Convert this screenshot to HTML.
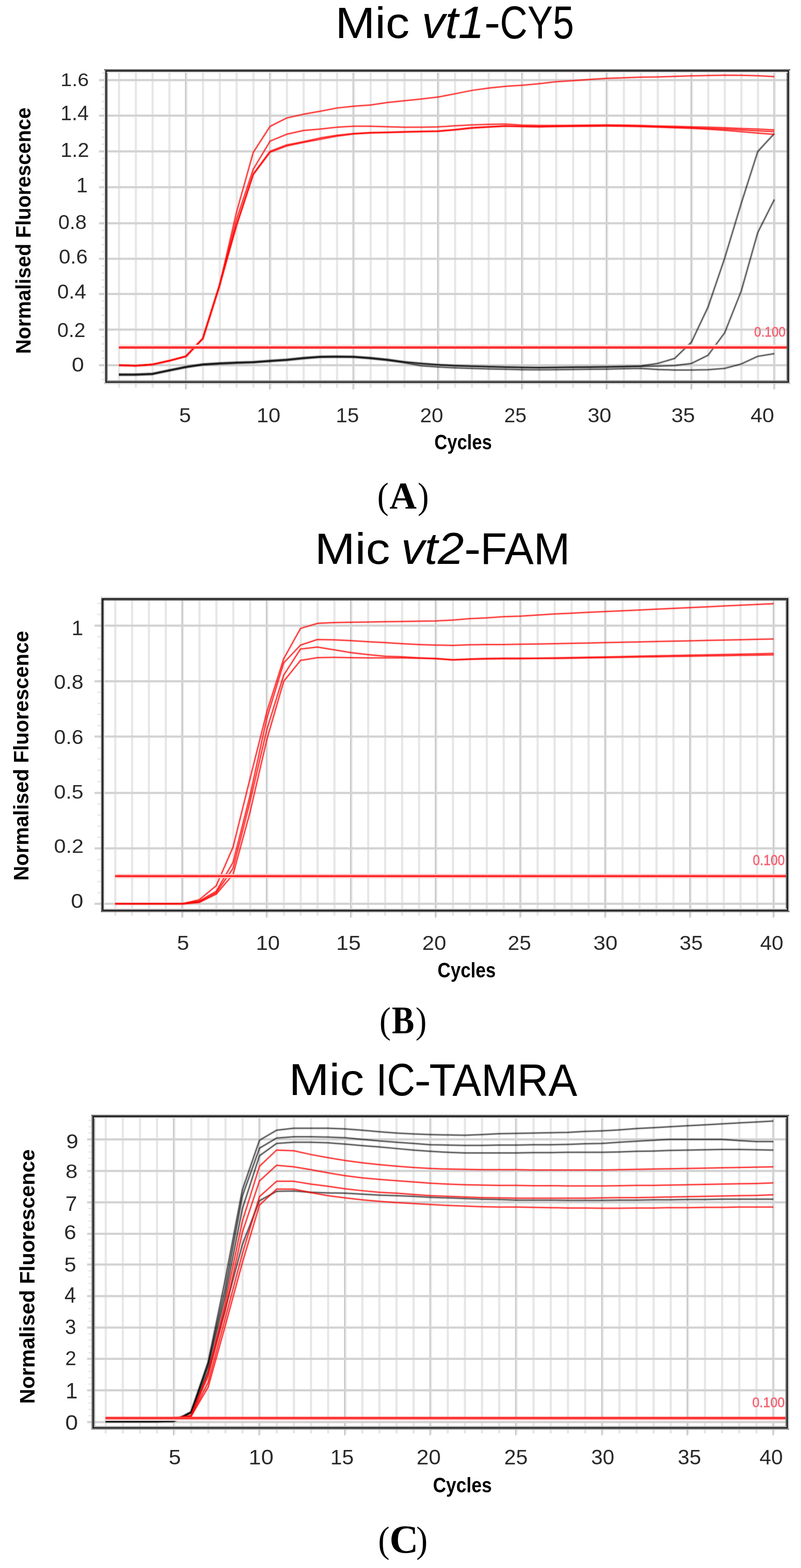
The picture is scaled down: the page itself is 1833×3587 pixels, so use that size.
<!DOCTYPE html>
<html><head><meta charset="utf-8"><title>Mic qPCR amplification curves</title>
<style>
html,body{margin:0;padding:0;background:#fff;}
body{width:1833px;height:3587px;overflow:hidden;}
svg{display:block;}
text{font-kerning:normal;font-family:"Liberation Sans",sans-serif;}
</style></head><body>
<svg width="1833" height="3587" viewBox="0 0 1833 3587">
<rect width="1833" height="3587" fill="#fff"/>
<line x1="232.4" y1="868.06" x2="240.6" y2="868.06" stroke="#e6e6e6" stroke-width="3"/>
<line x1="232.4" y1="851.78" x2="240.6" y2="851.78" stroke="#e6e6e6" stroke-width="3"/>
<line x1="232.4" y1="819.22" x2="240.6" y2="819.22" stroke="#e6e6e6" stroke-width="3"/>
<line x1="232.4" y1="802.94" x2="240.6" y2="802.94" stroke="#e6e6e6" stroke-width="3"/>
<line x1="232.4" y1="786.66" x2="240.6" y2="786.66" stroke="#e6e6e6" stroke-width="3"/>
<line x1="232.4" y1="770.38" x2="240.6" y2="770.38" stroke="#e6e6e6" stroke-width="3"/>
<line x1="232.4" y1="737.76" x2="240.6" y2="737.76" stroke="#e6e6e6" stroke-width="3"/>
<line x1="232.4" y1="721.42" x2="240.6" y2="721.42" stroke="#e6e6e6" stroke-width="3"/>
<line x1="232.4" y1="705.08" x2="240.6" y2="705.08" stroke="#e6e6e6" stroke-width="3"/>
<line x1="232.4" y1="688.74" x2="240.6" y2="688.74" stroke="#e6e6e6" stroke-width="3"/>
<line x1="232.4" y1="656.34" x2="240.6" y2="656.34" stroke="#e6e6e6" stroke-width="3"/>
<line x1="232.4" y1="640.28" x2="240.6" y2="640.28" stroke="#e6e6e6" stroke-width="3"/>
<line x1="232.4" y1="624.22" x2="240.6" y2="624.22" stroke="#e6e6e6" stroke-width="3"/>
<line x1="232.4" y1="608.16" x2="240.6" y2="608.16" stroke="#e6e6e6" stroke-width="3"/>
<line x1="232.4" y1="575.84" x2="240.6" y2="575.84" stroke="#e6e6e6" stroke-width="3"/>
<line x1="232.4" y1="559.58" x2="240.6" y2="559.58" stroke="#e6e6e6" stroke-width="3"/>
<line x1="232.4" y1="543.32" x2="240.6" y2="543.32" stroke="#e6e6e6" stroke-width="3"/>
<line x1="232.4" y1="527.06" x2="240.6" y2="527.06" stroke="#e6e6e6" stroke-width="3"/>
<line x1="232.4" y1="494.3" x2="240.6" y2="494.3" stroke="#e6e6e6" stroke-width="3"/>
<line x1="232.4" y1="477.8" x2="240.6" y2="477.8" stroke="#e6e6e6" stroke-width="3"/>
<line x1="232.4" y1="461.3" x2="240.6" y2="461.3" stroke="#e6e6e6" stroke-width="3"/>
<line x1="232.4" y1="444.8" x2="240.6" y2="444.8" stroke="#e6e6e6" stroke-width="3"/>
<line x1="232.4" y1="411.88" x2="240.6" y2="411.88" stroke="#e6e6e6" stroke-width="3"/>
<line x1="232.4" y1="395.46" x2="240.6" y2="395.46" stroke="#e6e6e6" stroke-width="3"/>
<line x1="232.4" y1="379.04" x2="240.6" y2="379.04" stroke="#e6e6e6" stroke-width="3"/>
<line x1="232.4" y1="362.62" x2="240.6" y2="362.62" stroke="#e6e6e6" stroke-width="3"/>
<line x1="232.4" y1="329.88" x2="240.6" y2="329.88" stroke="#e6e6e6" stroke-width="3"/>
<line x1="232.4" y1="313.56" x2="240.6" y2="313.56" stroke="#e6e6e6" stroke-width="3"/>
<line x1="232.4" y1="297.24" x2="240.6" y2="297.24" stroke="#e6e6e6" stroke-width="3"/>
<line x1="232.4" y1="280.92" x2="240.6" y2="280.92" stroke="#e6e6e6" stroke-width="3"/>
<line x1="232.4" y1="248.34" x2="240.6" y2="248.34" stroke="#e6e6e6" stroke-width="3"/>
<line x1="232.4" y1="232.08" x2="240.6" y2="232.08" stroke="#e6e6e6" stroke-width="3"/>
<line x1="232.4" y1="215.82" x2="240.6" y2="215.82" stroke="#e6e6e6" stroke-width="3"/>
<line x1="232.4" y1="199.56" x2="240.6" y2="199.56" stroke="#e6e6e6" stroke-width="3"/>
<line x1="232.4" y1="167.04" x2="240.6" y2="167.04" stroke="#e6e6e6" stroke-width="3"/>
<line x1="272.5" y1="162.35" x2="272.5" y2="886.75" stroke="#e7e7e7" stroke-width="5"/>
<line x1="310.9" y1="162.35" x2="310.9" y2="886.75" stroke="#e7e7e7" stroke-width="5"/>
<line x1="349.3" y1="162.35" x2="349.3" y2="886.75" stroke="#e7e7e7" stroke-width="5"/>
<line x1="387.7" y1="162.35" x2="387.7" y2="886.75" stroke="#e7e7e7" stroke-width="5"/>
<line x1="424.8" y1="162.35" x2="424.8" y2="891.25" stroke="#c4c4c4" stroke-width="2.8"/>
<line x1="427.6" y1="162.35" x2="427.6" y2="889.25" stroke="#e6e6e6" stroke-width="2.8"/>
<line x1="464.58" y1="162.35" x2="464.58" y2="886.75" stroke="#e7e7e7" stroke-width="5"/>
<line x1="503.06" y1="162.35" x2="503.06" y2="886.75" stroke="#e7e7e7" stroke-width="5"/>
<line x1="541.54" y1="162.35" x2="541.54" y2="886.75" stroke="#e7e7e7" stroke-width="5"/>
<line x1="580.02" y1="162.35" x2="580.02" y2="886.75" stroke="#e7e7e7" stroke-width="5"/>
<line x1="617.2" y1="162.35" x2="617.2" y2="891.25" stroke="#c4c4c4" stroke-width="2.8"/>
<line x1="620" y1="162.35" x2="620" y2="889.25" stroke="#e6e6e6" stroke-width="2.8"/>
<line x1="656.7" y1="162.35" x2="656.7" y2="886.75" stroke="#e7e7e7" stroke-width="5"/>
<line x1="694.9" y1="162.35" x2="694.9" y2="886.75" stroke="#e7e7e7" stroke-width="5"/>
<line x1="733.1" y1="162.35" x2="733.1" y2="886.75" stroke="#e7e7e7" stroke-width="5"/>
<line x1="771.3" y1="162.35" x2="771.3" y2="886.75" stroke="#e7e7e7" stroke-width="5"/>
<line x1="808.2" y1="162.35" x2="808.2" y2="891.25" stroke="#c4c4c4" stroke-width="2.8"/>
<line x1="811" y1="162.35" x2="811" y2="889.25" stroke="#e6e6e6" stroke-width="2.8"/>
<line x1="848.2" y1="162.35" x2="848.2" y2="886.75" stroke="#e7e7e7" stroke-width="5"/>
<line x1="886.9" y1="162.35" x2="886.9" y2="886.75" stroke="#e7e7e7" stroke-width="5"/>
<line x1="925.6" y1="162.35" x2="925.6" y2="886.75" stroke="#e7e7e7" stroke-width="5"/>
<line x1="964.3" y1="162.35" x2="964.3" y2="886.75" stroke="#e7e7e7" stroke-width="5"/>
<line x1="1001.7" y1="162.35" x2="1001.7" y2="891.25" stroke="#c4c4c4" stroke-width="2.8"/>
<line x1="1004.5" y1="162.35" x2="1004.5" y2="889.25" stroke="#e6e6e6" stroke-width="2.8"/>
<line x1="1041.46" y1="162.35" x2="1041.46" y2="886.75" stroke="#e7e7e7" stroke-width="5"/>
<line x1="1079.92" y1="162.35" x2="1079.92" y2="886.75" stroke="#e7e7e7" stroke-width="5"/>
<line x1="1118.38" y1="162.35" x2="1118.38" y2="886.75" stroke="#e7e7e7" stroke-width="5"/>
<line x1="1156.84" y1="162.35" x2="1156.84" y2="886.75" stroke="#e7e7e7" stroke-width="5"/>
<line x1="1194" y1="162.35" x2="1194" y2="891.25" stroke="#c4c4c4" stroke-width="2.8"/>
<line x1="1196.8" y1="162.35" x2="1196.8" y2="889.25" stroke="#e6e6e6" stroke-width="2.8"/>
<line x1="1234.04" y1="162.35" x2="1234.04" y2="886.75" stroke="#e7e7e7" stroke-width="5"/>
<line x1="1272.78" y1="162.35" x2="1272.78" y2="886.75" stroke="#e7e7e7" stroke-width="5"/>
<line x1="1311.52" y1="162.35" x2="1311.52" y2="886.75" stroke="#e7e7e7" stroke-width="5"/>
<line x1="1350.26" y1="162.35" x2="1350.26" y2="886.75" stroke="#e7e7e7" stroke-width="5"/>
<line x1="1387.7" y1="162.35" x2="1387.7" y2="891.25" stroke="#c4c4c4" stroke-width="2.8"/>
<line x1="1390.5" y1="162.35" x2="1390.5" y2="889.25" stroke="#e6e6e6" stroke-width="2.8"/>
<line x1="1427.78" y1="162.35" x2="1427.78" y2="886.75" stroke="#e7e7e7" stroke-width="5"/>
<line x1="1466.56" y1="162.35" x2="1466.56" y2="886.75" stroke="#e7e7e7" stroke-width="5"/>
<line x1="1505.34" y1="162.35" x2="1505.34" y2="886.75" stroke="#e7e7e7" stroke-width="5"/>
<line x1="1544.12" y1="162.35" x2="1544.12" y2="886.75" stroke="#e7e7e7" stroke-width="5"/>
<line x1="1581.6" y1="162.35" x2="1581.6" y2="891.25" stroke="#c4c4c4" stroke-width="2.8"/>
<line x1="1584.4" y1="162.35" x2="1584.4" y2="889.25" stroke="#e6e6e6" stroke-width="2.8"/>
<line x1="1620.82" y1="162.35" x2="1620.82" y2="886.75" stroke="#e7e7e7" stroke-width="5"/>
<line x1="1658.74" y1="162.35" x2="1658.74" y2="886.75" stroke="#e7e7e7" stroke-width="5"/>
<line x1="1696.66" y1="162.35" x2="1696.66" y2="886.75" stroke="#e7e7e7" stroke-width="5"/>
<line x1="1734.58" y1="162.35" x2="1734.58" y2="886.75" stroke="#e7e7e7" stroke-width="5"/>
<line x1="1771.2" y1="162.35" x2="1771.2" y2="891.25" stroke="#c4c4c4" stroke-width="2.8"/>
<line x1="1774" y1="162.35" x2="1774" y2="889.25" stroke="#e6e6e6" stroke-width="2.8"/>
<line x1="226.45" y1="835.5" x2="1804.25" y2="835.5" stroke="#d3d3d3" stroke-width="5"/>
<line x1="226.45" y1="754.1" x2="1804.25" y2="754.1" stroke="#d3d3d3" stroke-width="5"/>
<line x1="226.45" y1="672.4" x2="1804.25" y2="672.4" stroke="#d3d3d3" stroke-width="5"/>
<line x1="226.45" y1="592.1" x2="1804.25" y2="592.1" stroke="#d3d3d3" stroke-width="5"/>
<line x1="226.45" y1="510.8" x2="1804.25" y2="510.8" stroke="#d3d3d3" stroke-width="5"/>
<line x1="226.45" y1="428.3" x2="1804.25" y2="428.3" stroke="#d3d3d3" stroke-width="5"/>
<line x1="226.45" y1="346.2" x2="1804.25" y2="346.2" stroke="#d3d3d3" stroke-width="5"/>
<line x1="226.45" y1="264.6" x2="1804.25" y2="264.6" stroke="#d3d3d3" stroke-width="5"/>
<line x1="226.45" y1="183.3" x2="1804.25" y2="183.3" stroke="#d3d3d3" stroke-width="5"/>
<polyline points="272,858.27 310.4,858.27 348.8,856.64 387.2,848.5 425.6,840.77 464.08,835.07 502.56,832.63 541.04,831 579.52,829.78 618,826.93 656.2,824.49 694.4,820.42 732.6,817.57 770.8,817.16 809,817.57 847.7,820.42 886.4,824.49 925.1,829.78 963.8,836.7 1002.5,839.55 1040.96,841.58 1079.42,842.81 1117.88,844.03 1156.34,844.84 1194.8,845.65 1233.54,846.06 1272.28,845.65 1311.02,845.25 1349.76,844.84 1388.5,844.43 1427.28,843.62 1466.06,842.81 1504.84,845.25 1543.62,846.47 1582.4,846.47 1620.32,845.65 1658.24,842.81 1696.16,832.63 1734.08,815.13 1772,809.02" fill="none" stroke="#000" stroke-width="7" stroke-linejoin="round" stroke-linecap="butt" stroke-opacity="0.1"/>
<polyline points="272,858.27 310.4,858.27 348.8,856.64 387.2,848.5 425.6,840.77 464.08,835.07 502.56,832.63 541.04,831 579.52,829.78 618,826.93 656.2,824.49 694.4,820.42 732.6,817.57 770.8,817.16 809,817.57 847.7,820.42 886.4,824.49 925.1,829.78 963.8,836.7 1002.5,839.55 1040.96,841.58 1079.42,842.81 1117.88,844.03 1156.34,844.84 1194.8,845.65 1233.54,846.06 1272.28,845.65 1311.02,845.25 1349.76,844.84 1388.5,844.43 1427.28,843.62 1466.06,842.81 1504.84,845.25 1543.62,846.47 1582.4,846.47 1620.32,845.65 1658.24,842.81 1696.16,832.63 1734.08,815.13 1772,809.02" fill="none" stroke="#000" stroke-width="3" stroke-linejoin="round" stroke-linecap="butt" stroke-opacity="0.58"/>
<polyline points="272,857.07 310.4,857.07 348.8,855.44 387.2,847.3 425.6,839.57 464.08,833.87 502.56,831.43 541.04,829.8 579.52,828.58 618,825.73 656.2,823.29 694.4,819.22 732.6,816.37 770.8,815.96 809,816.37 847.7,819.22 886.4,823.29 925.1,828.58 963.8,832.24 1002.5,835.09 1040.96,837.13 1079.42,838.35 1117.88,839.57 1156.34,840.38 1194.8,841.2 1233.54,841.61 1272.28,841.2 1311.02,840.79 1349.76,840.38 1388.5,839.98 1427.28,839.16 1466.06,838.35 1504.84,837.53 1543.62,836.31 1582.4,831.43 1620.32,812.71 1658.24,761.43 1696.16,665.98 1734.08,531.94 1772,456.35" fill="none" stroke="#000" stroke-width="7" stroke-linejoin="round" stroke-linecap="butt" stroke-opacity="0.1"/>
<polyline points="272,857.07 310.4,857.07 348.8,855.44 387.2,847.3 425.6,839.57 464.08,833.87 502.56,831.43 541.04,829.8 579.52,828.58 618,825.73 656.2,823.29 694.4,819.22 732.6,816.37 770.8,815.96 809,816.37 847.7,819.22 886.4,823.29 925.1,828.58 963.8,832.24 1002.5,835.09 1040.96,837.13 1079.42,838.35 1117.88,839.57 1156.34,840.38 1194.8,841.2 1233.54,841.61 1272.28,841.2 1311.02,840.79 1349.76,840.38 1388.5,839.98 1427.28,839.16 1466.06,838.35 1504.84,837.53 1543.62,836.31 1582.4,831.43 1620.32,812.71 1658.24,761.43 1696.16,665.98 1734.08,531.94 1772,456.35" fill="none" stroke="#000" stroke-width="3" stroke-linejoin="round" stroke-linecap="butt" stroke-opacity="0.58"/>
<polyline points="272,855.87 310.4,855.87 348.8,854.24 387.2,846.1 425.6,838.37 464.08,832.67 502.56,830.23 541.04,828.6 579.52,827.38 618,824.53 656.2,822.09 694.4,818.02 732.6,815.17 770.8,814.76 809,815.17 847.7,818.02 886.4,822.09 925.1,827.38 963.8,831.04 1002.5,833.89 1040.96,835.93 1079.42,837.15 1117.88,838.37 1156.34,839.18 1194.8,840 1233.54,840.4 1272.28,840 1311.02,839.59 1349.76,839.18 1388.5,838.78 1427.28,837.96 1466.06,837.15 1504.84,831.45 1543.62,820.05 1582.4,782.61 1620.32,702.25 1658.24,590.9 1696.16,465.46 1734.08,346.64 1772,305.42" fill="none" stroke="#000" stroke-width="7" stroke-linejoin="round" stroke-linecap="butt" stroke-opacity="0.1"/>
<polyline points="272,855.87 310.4,855.87 348.8,854.24 387.2,846.1 425.6,838.37 464.08,832.67 502.56,830.23 541.04,828.6 579.52,827.38 618,824.53 656.2,822.09 694.4,818.02 732.6,815.17 770.8,814.76 809,815.17 847.7,818.02 886.4,822.09 925.1,827.38 963.8,831.04 1002.5,833.89 1040.96,835.93 1079.42,837.15 1117.88,838.37 1156.34,839.18 1194.8,840 1233.54,840.4 1272.28,840 1311.02,839.59 1349.76,839.18 1388.5,838.78 1427.28,837.96 1466.06,837.15 1504.84,831.45 1543.62,820.05 1582.4,782.61 1620.32,702.25 1658.24,590.9 1696.16,465.46 1734.08,346.64 1772,305.42" fill="none" stroke="#000" stroke-width="3" stroke-linejoin="round" stroke-linecap="butt" stroke-opacity="0.58"/>
<polyline points="272,835.5 310.4,836.72 348.8,833.87 387.2,825.33 425.6,815.15 464.08,774.45 502.56,652.33 541.04,516.9 579.52,399.56 618,348.25 656.2,333.96 694.4,325.8 732.6,318.86 770.8,311.52 809,306.62 847.7,304.18 886.4,303.36 925.1,302.14 963.8,301.32 1002.5,300.5 1040.96,297.24 1079.42,293.16 1117.88,290.71 1156.34,288.67 1194.8,289.49 1233.54,290.3 1272.28,289.49 1311.02,289.08 1349.76,288.67 1388.5,288.26 1427.28,288.67 1466.06,289.49 1504.84,290.71 1543.62,292.34 1582.4,293.57 1620.32,295.61 1658.24,298.06 1696.16,301.32 1734.08,304.58 1772,307.44" fill="none" stroke="#ff0000" stroke-width="7" stroke-linejoin="round" stroke-linecap="butt" stroke-opacity="0.08"/>
<polyline points="272,835.5 310.4,836.72 348.8,833.87 387.2,825.33 425.6,815.15 464.08,774.45 502.56,652.33 541.04,516.9 579.52,399.56 618,348.25 656.2,333.96 694.4,325.8 732.6,318.86 770.8,311.52 809,306.62 847.7,304.18 886.4,303.36 925.1,302.14 963.8,301.32 1002.5,300.5 1040.96,297.24 1079.42,293.16 1117.88,290.71 1156.34,288.67 1194.8,289.49 1233.54,290.3 1272.28,289.49 1311.02,289.08 1349.76,288.67 1388.5,288.26 1427.28,288.67 1466.06,289.49 1504.84,290.71 1543.62,292.34 1582.4,293.57 1620.32,295.61 1658.24,298.06 1696.16,301.32 1734.08,304.58 1772,307.44" fill="none" stroke="#ff0000" stroke-width="3" stroke-linejoin="round" stroke-linecap="butt" stroke-opacity="0.74"/>
<polyline points="272,835.5 310.4,836.72 348.8,833.87 387.2,825.33 425.6,815.15 464.08,774.45 502.56,652.33 541.04,514.87 579.52,397.92 618,346.2 656.2,331.51 694.4,324.17 732.6,315.6 770.8,309.48 809,305.4 847.7,303.36 886.4,302.54 925.1,301.32 963.8,300.5 1002.5,299.69 1040.96,296.42 1079.42,291.94 1117.88,289.9 1156.34,287.86 1194.8,289.08 1233.54,289.49 1272.28,288.67 1311.02,288.26 1349.76,287.86 1388.5,287.45 1427.28,287.86 1466.06,288.67 1504.84,289.9 1543.62,291.12 1582.4,292.34 1620.32,293.98 1658.24,295.2 1696.16,297.24 1734.08,299.28 1772,301.32" fill="none" stroke="#ff0000" stroke-width="7" stroke-linejoin="round" stroke-linecap="butt" stroke-opacity="0.08"/>
<polyline points="272,835.5 310.4,836.72 348.8,833.87 387.2,825.33 425.6,815.15 464.08,774.45 502.56,652.33 541.04,514.87 579.52,397.92 618,346.2 656.2,331.51 694.4,324.17 732.6,315.6 770.8,309.48 809,305.4 847.7,303.36 886.4,302.54 925.1,301.32 963.8,300.5 1002.5,299.69 1040.96,296.42 1079.42,291.94 1117.88,289.9 1156.34,287.86 1194.8,289.08 1233.54,289.49 1272.28,288.67 1311.02,288.26 1349.76,287.86 1388.5,287.45 1427.28,287.86 1466.06,288.67 1504.84,289.9 1543.62,291.12 1582.4,292.34 1620.32,293.98 1658.24,295.2 1696.16,297.24 1734.08,299.28 1772,301.32" fill="none" stroke="#ff0000" stroke-width="3" stroke-linejoin="round" stroke-linecap="butt" stroke-opacity="0.74"/>
<polyline points="272,835.5 310.4,836.72 348.8,833.87 387.2,825.33 425.6,815.15 464.08,774.45 502.56,652.33 541.04,502.55 579.52,387.25 618,322.94 656.2,307.03 694.4,298.46 732.6,295.2 770.8,291.12 809,288.67 847.7,288.67 886.4,289.9 925.1,291.12 963.8,291.12 1002.5,290.3 1040.96,287.86 1079.42,285.82 1117.88,284.59 1156.34,283.78 1194.8,286.22 1233.54,287.04 1272.28,287.04 1311.02,286.63 1349.76,286.22 1388.5,285.82 1427.28,286.22 1466.06,287.04 1504.84,288.26 1543.62,289.08 1582.4,290.3 1620.32,291.12 1658.24,292.34 1696.16,293.98 1734.08,295.2 1772,297.24" fill="none" stroke="#ff0000" stroke-width="7" stroke-linejoin="round" stroke-linecap="butt" stroke-opacity="0.08"/>
<polyline points="272,835.5 310.4,836.72 348.8,833.87 387.2,825.33 425.6,815.15 464.08,774.45 502.56,652.33 541.04,502.55 579.52,387.25 618,322.94 656.2,307.03 694.4,298.46 732.6,295.2 770.8,291.12 809,288.67 847.7,288.67 886.4,289.9 925.1,291.12 963.8,291.12 1002.5,290.3 1040.96,287.86 1079.42,285.82 1117.88,284.59 1156.34,283.78 1194.8,286.22 1233.54,287.04 1272.28,287.04 1311.02,286.63 1349.76,286.22 1388.5,285.82 1427.28,286.22 1466.06,287.04 1504.84,288.26 1543.62,289.08 1582.4,290.3 1620.32,291.12 1658.24,292.34 1696.16,293.98 1734.08,295.2 1772,297.24" fill="none" stroke="#ff0000" stroke-width="3" stroke-linejoin="round" stroke-linecap="butt" stroke-opacity="0.74"/>
<polyline points="272,835.5 310.4,836.72 348.8,833.87 387.2,825.33 425.6,815.15 464.08,774.45 502.56,652.33 541.04,486.05 579.52,348.66 618,289.08 656.2,269.9 694.4,261.35 732.6,254.44 770.8,247.12 809,243.06 847.7,240.21 886.4,234.52 925.1,230.45 963.8,226.39 1002.5,221.92 1040.96,214.6 1079.42,206.88 1117.88,201.59 1156.34,197.53 1194.8,195.09 1233.54,191.43 1272.28,186.96 1311.02,184.52 1349.76,181.67 1388.5,179.24 1427.28,178.02 1466.06,176.39 1504.84,175.98 1543.62,174.76 1582.4,173.54 1620.32,172.73 1658.24,171.92 1696.16,172.32 1734.08,173.14 1772,175.17" fill="none" stroke="#ff0000" stroke-width="7" stroke-linejoin="round" stroke-linecap="butt" stroke-opacity="0.08"/>
<polyline points="272,835.5 310.4,836.72 348.8,833.87 387.2,825.33 425.6,815.15 464.08,774.45 502.56,652.33 541.04,486.05 579.52,348.66 618,289.08 656.2,269.9 694.4,261.35 732.6,254.44 770.8,247.12 809,243.06 847.7,240.21 886.4,234.52 925.1,230.45 963.8,226.39 1002.5,221.92 1040.96,214.6 1079.42,206.88 1117.88,201.59 1156.34,197.53 1194.8,195.09 1233.54,191.43 1272.28,186.96 1311.02,184.52 1349.76,181.67 1388.5,179.24 1427.28,178.02 1466.06,176.39 1504.84,175.98 1543.62,174.76 1582.4,173.54 1620.32,172.73 1658.24,171.92 1696.16,172.32 1734.08,173.14 1772,175.17" fill="none" stroke="#ff0000" stroke-width="3" stroke-linejoin="round" stroke-linecap="butt" stroke-opacity="0.74"/>
<line x1="272" y1="792.9" x2="1804.25" y2="792.9" stroke="#fde2e2" stroke-width="9"/>
<line x1="272" y1="794.9" x2="1804.25" y2="794.9" stroke="#ff3030" stroke-width="5.5"/>
<line x1="239.65" y1="158.15" x2="239.65" y2="878.45" stroke="#d2d2d2" stroke-width="2.8"/>
<line x1="245.25" y1="162.35" x2="245.25" y2="874.25" stroke="#808080" stroke-width="2.8"/>
<line x1="1807.05" y1="158.15" x2="1807.05" y2="878.45" stroke="#d8d8d8" stroke-width="2.8"/>
<line x1="1801.45" y1="162.35" x2="1801.45" y2="874.25" stroke="#5c5c5c" stroke-width="2.8"/>
<line x1="238.25" y1="159.55" x2="1808.45" y2="159.55" stroke="#6a6a6a" stroke-width="2.8"/>
<line x1="242.45" y1="165.15" x2="1804.25" y2="165.15" stroke="#dadada" stroke-width="2.8"/>
<line x1="238.25" y1="877.05" x2="1808.45" y2="877.05" stroke="#c8c8c8" stroke-width="2.8"/>
<line x1="242.45" y1="871.45" x2="1804.25" y2="871.45" stroke="#8a8a8a" stroke-width="2.8"/>
<rect x="242.45" y="162.35" width="1561.8" height="711.9" fill="none" stroke="#161616" stroke-width="2.8"/>
<line x1="222.7" y1="2042.24" x2="230.3" y2="2042.24" stroke="#e6e6e6" stroke-width="3"/>
<line x1="222.7" y1="2016.88" x2="230.3" y2="2016.88" stroke="#e6e6e6" stroke-width="3"/>
<line x1="222.7" y1="1991.52" x2="230.3" y2="1991.52" stroke="#e6e6e6" stroke-width="3"/>
<line x1="222.7" y1="1966.16" x2="230.3" y2="1966.16" stroke="#e6e6e6" stroke-width="3"/>
<line x1="222.7" y1="1915.42" x2="230.3" y2="1915.42" stroke="#e6e6e6" stroke-width="3"/>
<line x1="222.7" y1="1890.04" x2="230.3" y2="1890.04" stroke="#e6e6e6" stroke-width="3"/>
<line x1="222.7" y1="1864.66" x2="230.3" y2="1864.66" stroke="#e6e6e6" stroke-width="3"/>
<line x1="222.7" y1="1839.28" x2="230.3" y2="1839.28" stroke="#e6e6e6" stroke-width="3"/>
<line x1="222.7" y1="1788.14" x2="230.3" y2="1788.14" stroke="#e6e6e6" stroke-width="3"/>
<line x1="222.7" y1="1762.38" x2="230.3" y2="1762.38" stroke="#e6e6e6" stroke-width="3"/>
<line x1="222.7" y1="1736.62" x2="230.3" y2="1736.62" stroke="#e6e6e6" stroke-width="3"/>
<line x1="222.7" y1="1710.86" x2="230.3" y2="1710.86" stroke="#e6e6e6" stroke-width="3"/>
<line x1="222.7" y1="1659.78" x2="230.3" y2="1659.78" stroke="#e6e6e6" stroke-width="3"/>
<line x1="222.7" y1="1634.46" x2="230.3" y2="1634.46" stroke="#e6e6e6" stroke-width="3"/>
<line x1="222.7" y1="1609.14" x2="230.3" y2="1609.14" stroke="#e6e6e6" stroke-width="3"/>
<line x1="222.7" y1="1583.82" x2="230.3" y2="1583.82" stroke="#e6e6e6" stroke-width="3"/>
<line x1="222.7" y1="1533.04" x2="230.3" y2="1533.04" stroke="#e6e6e6" stroke-width="3"/>
<line x1="222.7" y1="1507.58" x2="230.3" y2="1507.58" stroke="#e6e6e6" stroke-width="3"/>
<line x1="222.7" y1="1482.12" x2="230.3" y2="1482.12" stroke="#e6e6e6" stroke-width="3"/>
<line x1="222.7" y1="1456.66" x2="230.3" y2="1456.66" stroke="#e6e6e6" stroke-width="3"/>
<line x1="222.7" y1="1405.74" x2="230.3" y2="1405.74" stroke="#e6e6e6" stroke-width="3"/>
<line x1="222.7" y1="1380.28" x2="230.3" y2="1380.28" stroke="#e6e6e6" stroke-width="3"/>
<line x1="263.8" y1="1369.7" x2="263.8" y2="2094.9" stroke="#e7e7e7" stroke-width="5"/>
<line x1="302.32" y1="1369.7" x2="302.32" y2="2094.9" stroke="#e7e7e7" stroke-width="5"/>
<line x1="340.85" y1="1369.7" x2="340.85" y2="2094.9" stroke="#e7e7e7" stroke-width="5"/>
<line x1="379.38" y1="1369.7" x2="379.38" y2="2094.9" stroke="#e7e7e7" stroke-width="5"/>
<line x1="416.6" y1="1369.7" x2="416.6" y2="2099.4" stroke="#c4c4c4" stroke-width="2.8"/>
<line x1="419.4" y1="1369.7" x2="419.4" y2="2097.4" stroke="#e6e6e6" stroke-width="2.8"/>
<line x1="456.56" y1="1369.7" x2="456.56" y2="2094.9" stroke="#e7e7e7" stroke-width="5"/>
<line x1="495.22" y1="1369.7" x2="495.22" y2="2094.9" stroke="#e7e7e7" stroke-width="5"/>
<line x1="533.88" y1="1369.7" x2="533.88" y2="2094.9" stroke="#e7e7e7" stroke-width="5"/>
<line x1="572.54" y1="1369.7" x2="572.54" y2="2094.9" stroke="#e7e7e7" stroke-width="5"/>
<line x1="609.9" y1="1369.7" x2="609.9" y2="2099.4" stroke="#c4c4c4" stroke-width="2.8"/>
<line x1="612.7" y1="1369.7" x2="612.7" y2="2097.4" stroke="#e6e6e6" stroke-width="2.8"/>
<line x1="649.72" y1="1369.7" x2="649.72" y2="2094.9" stroke="#e7e7e7" stroke-width="5"/>
<line x1="688.24" y1="1369.7" x2="688.24" y2="2094.9" stroke="#e7e7e7" stroke-width="5"/>
<line x1="726.76" y1="1369.7" x2="726.76" y2="2094.9" stroke="#e7e7e7" stroke-width="5"/>
<line x1="765.28" y1="1369.7" x2="765.28" y2="2094.9" stroke="#e7e7e7" stroke-width="5"/>
<line x1="802.5" y1="1369.7" x2="802.5" y2="2099.4" stroke="#c4c4c4" stroke-width="2.8"/>
<line x1="805.3" y1="1369.7" x2="805.3" y2="2097.4" stroke="#e6e6e6" stroke-width="2.8"/>
<line x1="842.6" y1="1369.7" x2="842.6" y2="2094.9" stroke="#e7e7e7" stroke-width="5"/>
<line x1="881.4" y1="1369.7" x2="881.4" y2="2094.9" stroke="#e7e7e7" stroke-width="5"/>
<line x1="920.2" y1="1369.7" x2="920.2" y2="2094.9" stroke="#e7e7e7" stroke-width="5"/>
<line x1="959" y1="1369.7" x2="959" y2="2094.9" stroke="#e7e7e7" stroke-width="5"/>
<line x1="996.5" y1="1369.7" x2="996.5" y2="2099.4" stroke="#c4c4c4" stroke-width="2.8"/>
<line x1="999.3" y1="1369.7" x2="999.3" y2="2097.4" stroke="#e6e6e6" stroke-width="2.8"/>
<line x1="1036.54" y1="1369.7" x2="1036.54" y2="2094.9" stroke="#e7e7e7" stroke-width="5"/>
<line x1="1075.28" y1="1369.7" x2="1075.28" y2="2094.9" stroke="#e7e7e7" stroke-width="5"/>
<line x1="1114.02" y1="1369.7" x2="1114.02" y2="2094.9" stroke="#e7e7e7" stroke-width="5"/>
<line x1="1152.76" y1="1369.7" x2="1152.76" y2="2094.9" stroke="#e7e7e7" stroke-width="5"/>
<line x1="1190.2" y1="1369.7" x2="1190.2" y2="2099.4" stroke="#c4c4c4" stroke-width="2.8"/>
<line x1="1193" y1="1369.7" x2="1193" y2="2097.4" stroke="#e6e6e6" stroke-width="2.8"/>
<line x1="1230.36" y1="1369.7" x2="1230.36" y2="2094.9" stroke="#e7e7e7" stroke-width="5"/>
<line x1="1269.22" y1="1369.7" x2="1269.22" y2="2094.9" stroke="#e7e7e7" stroke-width="5"/>
<line x1="1308.08" y1="1369.7" x2="1308.08" y2="2094.9" stroke="#e7e7e7" stroke-width="5"/>
<line x1="1346.94" y1="1369.7" x2="1346.94" y2="2094.9" stroke="#e7e7e7" stroke-width="5"/>
<line x1="1384.5" y1="1369.7" x2="1384.5" y2="2099.4" stroke="#c4c4c4" stroke-width="2.8"/>
<line x1="1387.3" y1="1369.7" x2="1387.3" y2="2097.4" stroke="#e6e6e6" stroke-width="2.8"/>
<line x1="1424.64" y1="1369.7" x2="1424.64" y2="2094.9" stroke="#e7e7e7" stroke-width="5"/>
<line x1="1463.48" y1="1369.7" x2="1463.48" y2="2094.9" stroke="#e7e7e7" stroke-width="5"/>
<line x1="1502.32" y1="1369.7" x2="1502.32" y2="2094.9" stroke="#e7e7e7" stroke-width="5"/>
<line x1="1541.16" y1="1369.7" x2="1541.16" y2="2094.9" stroke="#e7e7e7" stroke-width="5"/>
<line x1="1578.7" y1="1369.7" x2="1578.7" y2="2099.4" stroke="#c4c4c4" stroke-width="2.8"/>
<line x1="1581.5" y1="1369.7" x2="1581.5" y2="2097.4" stroke="#e6e6e6" stroke-width="2.8"/>
<line x1="1618.2" y1="1369.7" x2="1618.2" y2="2094.9" stroke="#e7e7e7" stroke-width="5"/>
<line x1="1656.4" y1="1369.7" x2="1656.4" y2="2094.9" stroke="#e7e7e7" stroke-width="5"/>
<line x1="1694.6" y1="1369.7" x2="1694.6" y2="2094.9" stroke="#e7e7e7" stroke-width="5"/>
<line x1="1732.8" y1="1369.7" x2="1732.8" y2="2094.9" stroke="#e7e7e7" stroke-width="5"/>
<line x1="1769.7" y1="1369.7" x2="1769.7" y2="2099.4" stroke="#c4c4c4" stroke-width="2.8"/>
<line x1="1772.5" y1="1369.7" x2="1772.5" y2="2097.4" stroke="#e6e6e6" stroke-width="2.8"/>
<line x1="216.4" y1="2067.6" x2="1802.4" y2="2067.6" stroke="#d3d3d3" stroke-width="5"/>
<line x1="216.4" y1="1940.8" x2="1802.4" y2="1940.8" stroke="#d3d3d3" stroke-width="5"/>
<line x1="216.4" y1="1813.9" x2="1802.4" y2="1813.9" stroke="#d3d3d3" stroke-width="5"/>
<line x1="216.4" y1="1685.1" x2="1802.4" y2="1685.1" stroke="#d3d3d3" stroke-width="5"/>
<line x1="216.4" y1="1558.5" x2="1802.4" y2="1558.5" stroke="#d3d3d3" stroke-width="5"/>
<line x1="216.4" y1="1431.2" x2="1802.4" y2="1431.2" stroke="#d3d3d3" stroke-width="5"/>
<polyline points="263.3,2067.6 301.82,2067.6 340.35,2067.6 378.88,2067.6 417.4,2067.6 456.06,2064.43 494.72,2045.41 533.38,2000.4 572.04,1858.32 610.7,1691.54 649.22,1558.5 687.74,1510.76 726.26,1504.4 764.78,1503.76 803.3,1504.4 842.1,1505.03 880.9,1505.03 919.7,1505.03 958.5,1505.67 997.3,1506.31 1036.04,1509.49 1074.78,1508.22 1113.52,1507.58 1152.26,1506.94 1191,1506.94 1229.86,1506.31 1268.72,1506.31 1307.58,1505.67 1346.44,1505.03 1385.3,1504.4 1424.14,1503.76 1462.98,1503.12 1501.82,1502.49 1540.66,1501.85 1579.5,1501.22 1617.7,1500.58 1655.9,1499.94 1694.1,1499.31 1732.3,1498.67 1770.5,1498.03" fill="none" stroke="#ff0000" stroke-width="7" stroke-linejoin="round" stroke-linecap="butt" stroke-opacity="0.08"/>
<polyline points="263.3,2067.6 301.82,2067.6 340.35,2067.6 378.88,2067.6 417.4,2067.6 456.06,2064.43 494.72,2045.41 533.38,2000.4 572.04,1858.32 610.7,1691.54 649.22,1558.5 687.74,1510.76 726.26,1504.4 764.78,1503.76 803.3,1504.4 842.1,1505.03 880.9,1505.03 919.7,1505.03 958.5,1505.67 997.3,1506.31 1036.04,1509.49 1074.78,1508.22 1113.52,1507.58 1152.26,1506.94 1191,1506.94 1229.86,1506.31 1268.72,1506.31 1307.58,1505.67 1346.44,1505.03 1385.3,1504.4 1424.14,1503.76 1462.98,1503.12 1501.82,1502.49 1540.66,1501.85 1579.5,1501.22 1617.7,1500.58 1655.9,1499.94 1694.1,1499.31 1732.3,1498.67 1770.5,1498.03" fill="none" stroke="#ff0000" stroke-width="3" stroke-linejoin="round" stroke-linecap="butt" stroke-opacity="0.74"/>
<polyline points="263.3,2067.6 301.82,2067.6 340.35,2067.6 378.88,2067.6 417.4,2067.6 456.06,2063.16 494.72,2042.24 533.38,1986.45 572.04,1834.2 610.7,1668.64 649.22,1544.5 687.74,1484.67 726.26,1480.21 764.78,1486.58 803.3,1492.94 842.1,1497.4 880.9,1501.22 919.7,1502.49 958.5,1505.03 997.3,1506.94 1036.04,1509.49 1074.78,1507.58 1113.52,1506.31 1152.26,1505.67 1191,1505.67 1229.86,1505.67 1268.72,1505.03 1307.58,1504.25 1346.44,1503.47 1385.3,1502.68 1424.14,1501.9 1462.98,1501.12 1501.82,1500.33 1540.66,1499.55 1579.5,1498.77 1617.7,1497.98 1655.9,1497.2 1694.1,1496.42 1732.3,1495.63 1770.5,1494.85" fill="none" stroke="#ff0000" stroke-width="7" stroke-linejoin="round" stroke-linecap="butt" stroke-opacity="0.08"/>
<polyline points="263.3,2067.6 301.82,2067.6 340.35,2067.6 378.88,2067.6 417.4,2067.6 456.06,2063.16 494.72,2042.24 533.38,1986.45 572.04,1834.2 610.7,1668.64 649.22,1544.5 687.74,1484.67 726.26,1480.21 764.78,1486.58 803.3,1492.94 842.1,1497.4 880.9,1501.22 919.7,1502.49 958.5,1505.03 997.3,1506.94 1036.04,1509.49 1074.78,1507.58 1113.52,1506.31 1152.26,1505.67 1191,1505.67 1229.86,1505.67 1268.72,1505.03 1307.58,1504.25 1346.44,1503.47 1385.3,1502.68 1424.14,1501.9 1462.98,1501.12 1501.82,1500.33 1540.66,1499.55 1579.5,1498.77 1617.7,1497.98 1655.9,1497.2 1694.1,1496.42 1732.3,1495.63 1770.5,1494.85" fill="none" stroke="#ff0000" stroke-width="3" stroke-linejoin="round" stroke-linecap="butt" stroke-opacity="0.74"/>
<polyline points="263.3,2067.6 301.82,2067.6 340.35,2067.6 378.88,2067.6 417.4,2067.6 456.06,2061.26 494.72,2039.07 533.38,1972.5 572.04,1820.25 610.7,1642.69 649.22,1516.49 687.74,1475.76 726.26,1463.03 764.78,1463.66 803.3,1465.57 842.1,1468.12 880.9,1470.03 919.7,1472.57 958.5,1474.48 997.3,1475.76 1036.04,1476.39 1074.78,1475.12 1113.52,1474.48 1152.26,1474.48 1191,1473.85 1229.86,1473.21 1268.72,1472.57 1307.58,1471.74 1346.44,1470.91 1385.3,1470.08 1424.14,1469.24 1462.98,1468.41 1501.82,1467.58 1540.66,1466.75 1579.5,1465.91 1617.7,1465.08 1655.9,1464.25 1694.1,1463.42 1732.3,1462.58 1770.5,1461.75" fill="none" stroke="#ff0000" stroke-width="7" stroke-linejoin="round" stroke-linecap="butt" stroke-opacity="0.08"/>
<polyline points="263.3,2067.6 301.82,2067.6 340.35,2067.6 378.88,2067.6 417.4,2067.6 456.06,2061.26 494.72,2039.07 533.38,1972.5 572.04,1820.25 610.7,1642.69 649.22,1516.49 687.74,1475.76 726.26,1463.03 764.78,1463.66 803.3,1465.57 842.1,1468.12 880.9,1470.03 919.7,1472.57 958.5,1474.48 997.3,1475.76 1036.04,1476.39 1074.78,1475.12 1113.52,1474.48 1152.26,1474.48 1191,1473.85 1229.86,1473.21 1268.72,1472.57 1307.58,1471.74 1346.44,1470.91 1385.3,1470.08 1424.14,1469.24 1462.98,1468.41 1501.82,1467.58 1540.66,1466.75 1579.5,1465.91 1617.7,1465.08 1655.9,1464.25 1694.1,1463.42 1732.3,1462.58 1770.5,1461.75" fill="none" stroke="#ff0000" stroke-width="3" stroke-linejoin="round" stroke-linecap="butt" stroke-opacity="0.74"/>
<polyline points="263.3,2067.6 301.82,2067.6 340.35,2067.6 378.88,2067.6 417.4,2067.6 456.06,2058.09 494.72,2026.39 533.38,1937.63 572.04,1781.7 610.7,1628.13 649.22,1506.94 687.74,1437.57 726.26,1426.11 764.78,1424.2 803.3,1423.56 842.1,1422.93 880.9,1422.29 919.7,1421.65 958.5,1421.02 997.3,1420.38 1036.04,1418.47 1074.78,1415.29 1113.52,1413.38 1152.26,1410.83 1191,1409.56 1229.86,1407.01 1268.72,1404.47 1307.58,1402.66 1346.44,1400.84 1385.3,1399.03 1424.14,1397.22 1462.98,1395.41 1501.82,1393.6 1540.66,1391.79 1579.5,1389.97 1617.7,1388.16 1655.9,1386.35 1694.1,1384.54 1732.3,1382.73 1770.5,1380.92" fill="none" stroke="#ff0000" stroke-width="7" stroke-linejoin="round" stroke-linecap="butt" stroke-opacity="0.08"/>
<polyline points="263.3,2067.6 301.82,2067.6 340.35,2067.6 378.88,2067.6 417.4,2067.6 456.06,2058.09 494.72,2026.39 533.38,1937.63 572.04,1781.7 610.7,1628.13 649.22,1506.94 687.74,1437.57 726.26,1426.11 764.78,1424.2 803.3,1423.56 842.1,1422.93 880.9,1422.29 919.7,1421.65 958.5,1421.02 997.3,1420.38 1036.04,1418.47 1074.78,1415.29 1113.52,1413.38 1152.26,1410.83 1191,1409.56 1229.86,1407.01 1268.72,1404.47 1307.58,1402.66 1346.44,1400.84 1385.3,1399.03 1424.14,1397.22 1462.98,1395.41 1501.82,1393.6 1540.66,1391.79 1579.5,1389.97 1617.7,1388.16 1655.9,1386.35 1694.1,1384.54 1732.3,1382.73 1770.5,1380.92" fill="none" stroke="#ff0000" stroke-width="3" stroke-linejoin="round" stroke-linecap="butt" stroke-opacity="0.74"/>
<line x1="263.3" y1="2004.3" x2="1802.4" y2="2004.3" stroke="#ffb6b6" stroke-width="9.5"/>
<line x1="263.3" y1="2004.3" x2="1802.4" y2="2004.3" stroke="#ff1212" stroke-width="3.6"/>
<line x1="232.6" y1="1365.5" x2="232.6" y2="2086.6" stroke="#626262" stroke-width="2.8"/>
<line x1="238.2" y1="1369.7" x2="238.2" y2="2082.4" stroke="#dadada" stroke-width="2.8"/>
<line x1="1805.2" y1="1365.5" x2="1805.2" y2="2086.6" stroke="#d2d2d2" stroke-width="2.8"/>
<line x1="1799.6" y1="1369.7" x2="1799.6" y2="2082.4" stroke="#626262" stroke-width="2.8"/>
<line x1="231.2" y1="1366.9" x2="1806.6" y2="1366.9" stroke="#dadada" stroke-width="2.8"/>
<line x1="235.4" y1="1372.5" x2="1802.4" y2="1372.5" stroke="#626262" stroke-width="2.8"/>
<line x1="231.2" y1="2085.2" x2="1806.6" y2="2085.2" stroke="#626262" stroke-width="2.8"/>
<line x1="235.4" y1="2079.6" x2="1802.4" y2="2079.6" stroke="#d2d2d2" stroke-width="2.8"/>
<rect x="235.4" y="1369.7" width="1567" height="712.7" fill="none" stroke="#161616" stroke-width="2.8"/>
<line x1="202.5" y1="3238.66" x2="209" y2="3238.66" stroke="#e6e6e6" stroke-width="3"/>
<line x1="202.5" y1="3224.12" x2="209" y2="3224.12" stroke="#e6e6e6" stroke-width="3"/>
<line x1="202.5" y1="3209.58" x2="209" y2="3209.58" stroke="#e6e6e6" stroke-width="3"/>
<line x1="202.5" y1="3195.04" x2="209" y2="3195.04" stroke="#e6e6e6" stroke-width="3"/>
<line x1="202.5" y1="3166.1" x2="209" y2="3166.1" stroke="#e6e6e6" stroke-width="3"/>
<line x1="202.5" y1="3151.7" x2="209" y2="3151.7" stroke="#e6e6e6" stroke-width="3"/>
<line x1="202.5" y1="3137.3" x2="209" y2="3137.3" stroke="#e6e6e6" stroke-width="3"/>
<line x1="202.5" y1="3122.9" x2="209" y2="3122.9" stroke="#e6e6e6" stroke-width="3"/>
<line x1="202.5" y1="3094.2" x2="209" y2="3094.2" stroke="#e6e6e6" stroke-width="3"/>
<line x1="202.5" y1="3079.9" x2="209" y2="3079.9" stroke="#e6e6e6" stroke-width="3"/>
<line x1="202.5" y1="3065.6" x2="209" y2="3065.6" stroke="#e6e6e6" stroke-width="3"/>
<line x1="202.5" y1="3051.3" x2="209" y2="3051.3" stroke="#e6e6e6" stroke-width="3"/>
<line x1="202.5" y1="3022.6" x2="209" y2="3022.6" stroke="#e6e6e6" stroke-width="3"/>
<line x1="202.5" y1="3008.2" x2="209" y2="3008.2" stroke="#e6e6e6" stroke-width="3"/>
<line x1="202.5" y1="2993.8" x2="209" y2="2993.8" stroke="#e6e6e6" stroke-width="3"/>
<line x1="202.5" y1="2979.4" x2="209" y2="2979.4" stroke="#e6e6e6" stroke-width="3"/>
<line x1="202.5" y1="2950.56" x2="209" y2="2950.56" stroke="#e6e6e6" stroke-width="3"/>
<line x1="202.5" y1="2936.12" x2="209" y2="2936.12" stroke="#e6e6e6" stroke-width="3"/>
<line x1="202.5" y1="2921.68" x2="209" y2="2921.68" stroke="#e6e6e6" stroke-width="3"/>
<line x1="202.5" y1="2907.24" x2="209" y2="2907.24" stroke="#e6e6e6" stroke-width="3"/>
<line x1="202.5" y1="2878.76" x2="209" y2="2878.76" stroke="#e6e6e6" stroke-width="3"/>
<line x1="202.5" y1="2864.72" x2="209" y2="2864.72" stroke="#e6e6e6" stroke-width="3"/>
<line x1="202.5" y1="2850.68" x2="209" y2="2850.68" stroke="#e6e6e6" stroke-width="3"/>
<line x1="202.5" y1="2836.64" x2="209" y2="2836.64" stroke="#e6e6e6" stroke-width="3"/>
<line x1="202.5" y1="2808.16" x2="209" y2="2808.16" stroke="#e6e6e6" stroke-width="3"/>
<line x1="202.5" y1="2793.72" x2="209" y2="2793.72" stroke="#e6e6e6" stroke-width="3"/>
<line x1="202.5" y1="2779.28" x2="209" y2="2779.28" stroke="#e6e6e6" stroke-width="3"/>
<line x1="202.5" y1="2764.84" x2="209" y2="2764.84" stroke="#e6e6e6" stroke-width="3"/>
<line x1="202.5" y1="2736.06" x2="209" y2="2736.06" stroke="#e6e6e6" stroke-width="3"/>
<line x1="202.5" y1="2721.72" x2="209" y2="2721.72" stroke="#e6e6e6" stroke-width="3"/>
<line x1="202.5" y1="2707.38" x2="209" y2="2707.38" stroke="#e6e6e6" stroke-width="3"/>
<line x1="202.5" y1="2693.04" x2="209" y2="2693.04" stroke="#e6e6e6" stroke-width="3"/>
<line x1="202.5" y1="2664.24" x2="209" y2="2664.24" stroke="#e6e6e6" stroke-width="3"/>
<line x1="202.5" y1="2649.78" x2="209" y2="2649.78" stroke="#e6e6e6" stroke-width="3"/>
<line x1="202.5" y1="2635.32" x2="209" y2="2635.32" stroke="#e6e6e6" stroke-width="3"/>
<line x1="202.5" y1="2620.86" x2="209" y2="2620.86" stroke="#e6e6e6" stroke-width="3"/>
<line x1="202.5" y1="2591.94" x2="209" y2="2591.94" stroke="#e6e6e6" stroke-width="3"/>
<line x1="202.5" y1="2577.48" x2="209" y2="2577.48" stroke="#e6e6e6" stroke-width="3"/>
<line x1="202.5" y1="2563.02" x2="209" y2="2563.02" stroke="#e6e6e6" stroke-width="3"/>
<line x1="242" y1="2554.4" x2="242" y2="3278.95" stroke="#e7e7e7" stroke-width="5"/>
<line x1="281.12" y1="2554.4" x2="281.12" y2="3278.95" stroke="#e7e7e7" stroke-width="5"/>
<line x1="320.25" y1="2554.4" x2="320.25" y2="3278.95" stroke="#e7e7e7" stroke-width="5"/>
<line x1="359.38" y1="2554.4" x2="359.38" y2="3278.95" stroke="#e7e7e7" stroke-width="5"/>
<line x1="397.2" y1="2554.4" x2="397.2" y2="3283.45" stroke="#c4c4c4" stroke-width="2.8"/>
<line x1="400" y1="2554.4" x2="400" y2="3281.45" stroke="#e6e6e6" stroke-width="2.8"/>
<line x1="437.66" y1="2554.4" x2="437.66" y2="3278.95" stroke="#e7e7e7" stroke-width="5"/>
<line x1="476.82" y1="2554.4" x2="476.82" y2="3278.95" stroke="#e7e7e7" stroke-width="5"/>
<line x1="515.98" y1="2554.4" x2="515.98" y2="3278.95" stroke="#e7e7e7" stroke-width="5"/>
<line x1="555.14" y1="2554.4" x2="555.14" y2="3278.95" stroke="#e7e7e7" stroke-width="5"/>
<line x1="593" y1="2554.4" x2="593" y2="3283.45" stroke="#c4c4c4" stroke-width="2.8"/>
<line x1="595.8" y1="2554.4" x2="595.8" y2="3281.45" stroke="#e6e6e6" stroke-width="2.8"/>
<line x1="633.46" y1="2554.4" x2="633.46" y2="3278.95" stroke="#e7e7e7" stroke-width="5"/>
<line x1="672.62" y1="2554.4" x2="672.62" y2="3278.95" stroke="#e7e7e7" stroke-width="5"/>
<line x1="711.78" y1="2554.4" x2="711.78" y2="3278.95" stroke="#e7e7e7" stroke-width="5"/>
<line x1="750.94" y1="2554.4" x2="750.94" y2="3278.95" stroke="#e7e7e7" stroke-width="5"/>
<line x1="788.8" y1="2554.4" x2="788.8" y2="3283.45" stroke="#c4c4c4" stroke-width="2.8"/>
<line x1="791.6" y1="2554.4" x2="791.6" y2="3281.45" stroke="#e6e6e6" stroke-width="2.8"/>
<line x1="829.18" y1="2554.4" x2="829.18" y2="3278.95" stroke="#e7e7e7" stroke-width="5"/>
<line x1="868.26" y1="2554.4" x2="868.26" y2="3278.95" stroke="#e7e7e7" stroke-width="5"/>
<line x1="907.34" y1="2554.4" x2="907.34" y2="3278.95" stroke="#e7e7e7" stroke-width="5"/>
<line x1="946.42" y1="2554.4" x2="946.42" y2="3278.95" stroke="#e7e7e7" stroke-width="5"/>
<line x1="984.2" y1="2554.4" x2="984.2" y2="3283.45" stroke="#c4c4c4" stroke-width="2.8"/>
<line x1="987" y1="2554.4" x2="987" y2="3281.45" stroke="#e6e6e6" stroke-width="2.8"/>
<line x1="1024.7" y1="2554.4" x2="1024.7" y2="3278.95" stroke="#e7e7e7" stroke-width="5"/>
<line x1="1063.9" y1="2554.4" x2="1063.9" y2="3278.95" stroke="#e7e7e7" stroke-width="5"/>
<line x1="1103.1" y1="2554.4" x2="1103.1" y2="3278.95" stroke="#e7e7e7" stroke-width="5"/>
<line x1="1142.3" y1="2554.4" x2="1142.3" y2="3278.95" stroke="#e7e7e7" stroke-width="5"/>
<line x1="1180.2" y1="2554.4" x2="1180.2" y2="3283.45" stroke="#c4c4c4" stroke-width="2.8"/>
<line x1="1183" y1="2554.4" x2="1183" y2="3281.45" stroke="#e6e6e6" stroke-width="2.8"/>
<line x1="1220.9" y1="2554.4" x2="1220.9" y2="3278.95" stroke="#e7e7e7" stroke-width="5"/>
<line x1="1260.3" y1="2554.4" x2="1260.3" y2="3278.95" stroke="#e7e7e7" stroke-width="5"/>
<line x1="1299.7" y1="2554.4" x2="1299.7" y2="3278.95" stroke="#e7e7e7" stroke-width="5"/>
<line x1="1339.1" y1="2554.4" x2="1339.1" y2="3278.95" stroke="#e7e7e7" stroke-width="5"/>
<line x1="1377.2" y1="2554.4" x2="1377.2" y2="3283.45" stroke="#c4c4c4" stroke-width="2.8"/>
<line x1="1380" y1="2554.4" x2="1380" y2="3281.45" stroke="#e6e6e6" stroke-width="2.8"/>
<line x1="1417.6" y1="2554.4" x2="1417.6" y2="3278.95" stroke="#e7e7e7" stroke-width="5"/>
<line x1="1456.7" y1="2554.4" x2="1456.7" y2="3278.95" stroke="#e7e7e7" stroke-width="5"/>
<line x1="1495.8" y1="2554.4" x2="1495.8" y2="3278.95" stroke="#e7e7e7" stroke-width="5"/>
<line x1="1534.9" y1="2554.4" x2="1534.9" y2="3278.95" stroke="#e7e7e7" stroke-width="5"/>
<line x1="1572.7" y1="2554.4" x2="1572.7" y2="3283.45" stroke="#c4c4c4" stroke-width="2.8"/>
<line x1="1575.5" y1="2554.4" x2="1575.5" y2="3281.45" stroke="#e6e6e6" stroke-width="2.8"/>
<line x1="1613.26" y1="2554.4" x2="1613.26" y2="3278.95" stroke="#e7e7e7" stroke-width="5"/>
<line x1="1652.52" y1="2554.4" x2="1652.52" y2="3278.95" stroke="#e7e7e7" stroke-width="5"/>
<line x1="1691.78" y1="2554.4" x2="1691.78" y2="3278.95" stroke="#e7e7e7" stroke-width="5"/>
<line x1="1731.04" y1="2554.4" x2="1731.04" y2="3278.95" stroke="#e7e7e7" stroke-width="5"/>
<line x1="1769" y1="2554.4" x2="1769" y2="3283.45" stroke="#c4c4c4" stroke-width="2.8"/>
<line x1="1771.8" y1="2554.4" x2="1771.8" y2="3281.45" stroke="#e6e6e6" stroke-width="2.8"/>
<line x1="199.35" y1="3253.2" x2="1801.5" y2="3253.2" stroke="#d3d3d3" stroke-width="5"/>
<line x1="199.35" y1="3180.5" x2="1801.5" y2="3180.5" stroke="#d3d3d3" stroke-width="5"/>
<line x1="199.35" y1="3108.5" x2="1801.5" y2="3108.5" stroke="#d3d3d3" stroke-width="5"/>
<line x1="199.35" y1="3037" x2="1801.5" y2="3037" stroke="#d3d3d3" stroke-width="5"/>
<line x1="199.35" y1="2965" x2="1801.5" y2="2965" stroke="#d3d3d3" stroke-width="5"/>
<line x1="199.35" y1="2892.8" x2="1801.5" y2="2892.8" stroke="#d3d3d3" stroke-width="5"/>
<line x1="199.35" y1="2822.6" x2="1801.5" y2="2822.6" stroke="#d3d3d3" stroke-width="5"/>
<line x1="199.35" y1="2750.4" x2="1801.5" y2="2750.4" stroke="#d3d3d3" stroke-width="5"/>
<line x1="199.35" y1="2678.7" x2="1801.5" y2="2678.7" stroke="#d3d3d3" stroke-width="5"/>
<line x1="199.35" y1="2606.4" x2="1801.5" y2="2606.4" stroke="#d3d3d3" stroke-width="5"/>
<polyline points="241.5,3251.75 280.62,3251.75 319.75,3251.75 358.88,3251.75 398,3251.02 437.16,3232.12 476.32,3137.3 515.48,2993.8 554.64,2847.17 593.8,2746.82 632.96,2725.3 672.12,2724.59 711.28,2727.46 750.44,2728.89 789.6,2729.61 828.68,2731.76 867.76,2733.91 906.84,2735.34 945.92,2736.78 985,2738.93 1024.2,2740.36 1063.4,2741.8 1102.6,2743.23 1141.8,2743.95 1181,2745.38 1220.4,2745.38 1259.8,2745.38 1299.2,2746.1 1338.6,2746.1 1378,2746.1 1417.1,2745.38 1456.2,2745.38 1495.3,2744.66 1534.4,2744.66 1573.5,2743.95 1612.76,2743.95 1652.02,2743.23 1691.28,2743.23 1730.54,2743.23 1769.8,2743.23" fill="none" stroke="#000" stroke-width="7" stroke-linejoin="round" stroke-linecap="butt" stroke-opacity="0.1"/>
<polyline points="241.5,3251.75 280.62,3251.75 319.75,3251.75 358.88,3251.75 398,3251.02 437.16,3232.12 476.32,3137.3 515.48,2993.8 554.64,2847.17 593.8,2746.82 632.96,2725.3 672.12,2724.59 711.28,2727.46 750.44,2728.89 789.6,2729.61 828.68,2731.76 867.76,2733.91 906.84,2735.34 945.92,2736.78 985,2738.93 1024.2,2740.36 1063.4,2741.8 1102.6,2743.23 1141.8,2743.95 1181,2745.38 1220.4,2745.38 1259.8,2745.38 1299.2,2746.1 1338.6,2746.1 1378,2746.1 1417.1,2745.38 1456.2,2745.38 1495.3,2744.66 1534.4,2744.66 1573.5,2743.95 1612.76,2743.95 1652.02,2743.23 1691.28,2743.23 1730.54,2743.23 1769.8,2743.23" fill="none" stroke="#000" stroke-width="3" stroke-linejoin="round" stroke-linecap="butt" stroke-opacity="0.58"/>
<polyline points="241.5,3251.75 280.62,3251.75 319.75,3251.75 358.88,3251.75 398,3251.02 437.16,3231.39 476.32,3126.5 515.48,2965 554.64,2764.84 593.8,2644 632.96,2615.8 672.12,2612.91 711.28,2612.91 750.44,2614.35 789.6,2617.24 828.68,2620.86 867.76,2623.75 906.84,2627.37 945.92,2630.98 985,2633.87 1024.2,2636.04 1063.4,2637.49 1102.6,2637.49 1141.8,2637.49 1181,2637.49 1220.4,2636.77 1259.8,2636.77 1299.2,2636.04 1338.6,2636.04 1378,2636.04 1417.1,2635.32 1456.2,2633.87 1495.3,2633.15 1534.4,2631.7 1573.5,2630.98 1612.76,2630.26 1652.02,2629.54 1691.28,2629.54 1730.54,2630.26 1769.8,2630.98" fill="none" stroke="#000" stroke-width="7" stroke-linejoin="round" stroke-linecap="butt" stroke-opacity="0.1"/>
<polyline points="241.5,3251.75 280.62,3251.75 319.75,3251.75 358.88,3251.75 398,3251.02 437.16,3231.39 476.32,3126.5 515.48,2965 554.64,2764.84 593.8,2644 632.96,2615.8 672.12,2612.91 711.28,2612.91 750.44,2614.35 789.6,2617.24 828.68,2620.86 867.76,2623.75 906.84,2627.37 945.92,2630.98 985,2633.87 1024.2,2636.04 1063.4,2637.49 1102.6,2637.49 1141.8,2637.49 1181,2637.49 1220.4,2636.77 1259.8,2636.77 1299.2,2636.04 1338.6,2636.04 1378,2636.04 1417.1,2635.32 1456.2,2633.87 1495.3,2633.15 1534.4,2631.7 1573.5,2630.98 1612.76,2630.26 1652.02,2629.54 1691.28,2629.54 1730.54,2630.26 1769.8,2630.98" fill="none" stroke="#000" stroke-width="3" stroke-linejoin="round" stroke-linecap="butt" stroke-opacity="0.58"/>
<polyline points="241.5,3251.75 280.62,3251.75 319.75,3251.75 358.88,3251.75 398,3251.02 437.16,3230.66 476.32,3119.3 515.48,2947.67 554.64,2736.06 593.8,2626.64 632.96,2603.51 672.12,2600.62 711.28,2600.62 750.44,2601.34 789.6,2602.78 828.68,2606.4 867.76,2610.02 906.84,2612.91 945.92,2615.8 985,2618.69 1024.2,2619.41 1063.4,2620.14 1102.6,2620.14 1141.8,2619.41 1181,2619.41 1220.4,2618.69 1259.8,2618.69 1299.2,2617.97 1338.6,2616.52 1378,2615.8 1417.1,2612.91 1456.2,2610.74 1495.3,2608.57 1534.4,2606.4 1573.5,2606.4 1612.76,2606.4 1652.02,2606.4 1691.28,2609.29 1730.54,2611.46 1769.8,2611.46" fill="none" stroke="#000" stroke-width="7" stroke-linejoin="round" stroke-linecap="butt" stroke-opacity="0.1"/>
<polyline points="241.5,3251.75 280.62,3251.75 319.75,3251.75 358.88,3251.75 398,3251.02 437.16,3230.66 476.32,3119.3 515.48,2947.67 554.64,2736.06 593.8,2626.64 632.96,2603.51 672.12,2600.62 711.28,2600.62 750.44,2601.34 789.6,2602.78 828.68,2606.4 867.76,2610.02 906.84,2612.91 945.92,2615.8 985,2618.69 1024.2,2619.41 1063.4,2620.14 1102.6,2620.14 1141.8,2619.41 1181,2619.41 1220.4,2618.69 1259.8,2618.69 1299.2,2617.97 1338.6,2616.52 1378,2615.8 1417.1,2612.91 1456.2,2610.74 1495.3,2608.57 1534.4,2606.4 1573.5,2606.4 1612.76,2606.4 1652.02,2606.4 1691.28,2609.29 1730.54,2611.46 1769.8,2611.46" fill="none" stroke="#000" stroke-width="3" stroke-linejoin="round" stroke-linecap="butt" stroke-opacity="0.58"/>
<polyline points="241.5,3251.75 280.62,3251.75 319.75,3251.75 358.88,3251.75 398,3251.02 437.16,3229.94 476.32,3115.7 515.48,2926.73 554.64,2721.72 593.8,2608.57 632.96,2585.43 672.12,2581.1 711.28,2581.1 750.44,2581.1 789.6,2582.54 828.68,2585.43 867.76,2589.05 906.84,2591.94 945.92,2594.11 985,2595.56 1024.2,2596.28 1063.4,2597 1102.6,2595.56 1141.8,2593.39 1181,2592.66 1220.4,2591.94 1259.8,2591.22 1299.2,2590.49 1338.6,2588.33 1378,2586.88 1417.1,2584.71 1456.2,2581.82 1495.3,2579.65 1534.4,2577.48 1573.5,2575.31 1612.76,2573.14 1652.02,2570.97 1691.28,2568.8 1730.54,2566.64 1769.8,2564.47" fill="none" stroke="#000" stroke-width="7" stroke-linejoin="round" stroke-linecap="butt" stroke-opacity="0.1"/>
<polyline points="241.5,3251.75 280.62,3251.75 319.75,3251.75 358.88,3251.75 398,3251.02 437.16,3229.94 476.32,3115.7 515.48,2926.73 554.64,2721.72 593.8,2608.57 632.96,2585.43 672.12,2581.1 711.28,2581.1 750.44,2581.1 789.6,2582.54 828.68,2585.43 867.76,2589.05 906.84,2591.94 945.92,2594.11 985,2595.56 1024.2,2596.28 1063.4,2597 1102.6,2595.56 1141.8,2593.39 1181,2592.66 1220.4,2591.94 1259.8,2591.22 1299.2,2590.49 1338.6,2588.33 1378,2586.88 1417.1,2584.71 1456.2,2581.82 1495.3,2579.65 1534.4,2577.48 1573.5,2575.31 1612.76,2573.14 1652.02,2570.97 1691.28,2568.8 1730.54,2566.64 1769.8,2564.47" fill="none" stroke="#000" stroke-width="3" stroke-linejoin="round" stroke-linecap="butt" stroke-opacity="0.58"/>
<polyline points="241.5,3244.48 280.62,3244.48 319.75,3244.48 358.88,3244.48 398,3244.48 437.16,3240.11 476.32,3173.3 515.48,3032.68 554.64,2888.59 593.8,2756.9 632.96,2720.29 672.12,2720.29 711.28,2728.17 750.44,2735.34 789.6,2740.36 828.68,2744.66 867.76,2748.25 906.84,2751.12 945.92,2753.29 985,2755.45 1024.2,2757.62 1063.4,2759.06 1102.6,2760.51 1141.8,2761.23 1181,2761.23 1220.4,2761.95 1259.8,2762.67 1299.2,2763.4 1338.6,2763.4 1378,2764.12 1417.1,2764.12 1456.2,2763.4 1495.3,2763.4 1534.4,2762.67 1573.5,2762.67 1612.76,2761.95 1652.02,2761.95 1691.28,2761.23 1730.54,2761.23 1769.8,2761.23" fill="none" stroke="#ff0000" stroke-width="7" stroke-linejoin="round" stroke-linecap="butt" stroke-opacity="0.08"/>
<polyline points="241.5,3244.48 280.62,3244.48 319.75,3244.48 358.88,3244.48 398,3244.48 437.16,3240.11 476.32,3173.3 515.48,3032.68 554.64,2888.59 593.8,2756.9 632.96,2720.29 672.12,2720.29 711.28,2728.17 750.44,2735.34 789.6,2740.36 828.68,2744.66 867.76,2748.25 906.84,2751.12 945.92,2753.29 985,2755.45 1024.2,2757.62 1063.4,2759.06 1102.6,2760.51 1141.8,2761.23 1181,2761.23 1220.4,2761.95 1259.8,2762.67 1299.2,2763.4 1338.6,2763.4 1378,2764.12 1417.1,2764.12 1456.2,2763.4 1495.3,2763.4 1534.4,2762.67 1573.5,2762.67 1612.76,2761.95 1652.02,2761.95 1691.28,2761.23 1730.54,2761.23 1769.8,2761.23" fill="none" stroke="#ff0000" stroke-width="3" stroke-linejoin="round" stroke-linecap="butt" stroke-opacity="0.74"/>
<polyline points="241.5,3244.48 280.62,3244.48 319.75,3244.48 358.88,3244.48 398,3244.48 437.16,3239.39 476.32,3162.5 515.48,3016.12 554.64,2868.23 593.8,2737.49 632.96,2702.36 672.12,2702.36 711.28,2708.81 750.44,2713.83 789.6,2719.57 828.68,2723.87 867.76,2727.46 906.84,2729.61 945.92,2732.47 985,2735.34 1024.2,2736.78 1063.4,2738.21 1102.6,2739.64 1141.8,2740.36 1181,2741.08 1220.4,2741.08 1259.8,2741.08 1299.2,2741.08 1338.6,2741.08 1378,2740.36 1417.1,2739.64 1456.2,2739.64 1495.3,2738.93 1534.4,2738.21 1573.5,2737.49 1612.76,2736.78 1652.02,2736.06 1691.28,2735.34 1730.54,2734.63 1769.8,2733.19" fill="none" stroke="#ff0000" stroke-width="7" stroke-linejoin="round" stroke-linecap="butt" stroke-opacity="0.08"/>
<polyline points="241.5,3244.48 280.62,3244.48 319.75,3244.48 358.88,3244.48 398,3244.48 437.16,3239.39 476.32,3162.5 515.48,3016.12 554.64,2868.23 593.8,2737.49 632.96,2702.36 672.12,2702.36 711.28,2708.81 750.44,2713.83 789.6,2719.57 828.68,2723.87 867.76,2727.46 906.84,2729.61 945.92,2732.47 985,2735.34 1024.2,2736.78 1063.4,2738.21 1102.6,2739.64 1141.8,2740.36 1181,2741.08 1220.4,2741.08 1259.8,2741.08 1299.2,2741.08 1338.6,2741.08 1378,2740.36 1417.1,2739.64 1456.2,2739.64 1495.3,2738.93 1534.4,2738.21 1573.5,2737.49 1612.76,2736.78 1652.02,2736.06 1691.28,2735.34 1730.54,2734.63 1769.8,2733.19" fill="none" stroke="#ff0000" stroke-width="3" stroke-linejoin="round" stroke-linecap="butt" stroke-opacity="0.74"/>
<polyline points="241.5,3244.48 280.62,3244.48 319.75,3244.48 358.88,3244.48 398,3244.48 437.16,3238.66 476.32,3148.1 515.48,2998.12 554.64,2818.99 593.8,2701.64 632.96,2665.69 672.12,2669.3 711.28,2675.81 750.44,2683 789.6,2689.45 828.68,2694.47 867.76,2698.06 906.84,2700.93 945.92,2703.8 985,2706.66 1024.2,2708.81 1063.4,2710.25 1102.6,2710.97 1141.8,2711.68 1181,2711.68 1220.4,2712.4 1259.8,2712.4 1299.2,2713.12 1338.6,2713.12 1378,2713.12 1417.1,2712.4 1456.2,2711.68 1495.3,2711.68 1534.4,2710.97 1573.5,2710.25 1612.76,2709.53 1652.02,2708.81 1691.28,2708.1 1730.54,2707.38 1769.8,2705.95" fill="none" stroke="#ff0000" stroke-width="7" stroke-linejoin="round" stroke-linecap="butt" stroke-opacity="0.08"/>
<polyline points="241.5,3244.48 280.62,3244.48 319.75,3244.48 358.88,3244.48 398,3244.48 437.16,3238.66 476.32,3148.1 515.48,2998.12 554.64,2818.99 593.8,2701.64 632.96,2665.69 672.12,2669.3 711.28,2675.81 750.44,2683 789.6,2689.45 828.68,2694.47 867.76,2698.06 906.84,2700.93 945.92,2703.8 985,2706.66 1024.2,2708.81 1063.4,2710.25 1102.6,2710.97 1141.8,2711.68 1181,2711.68 1220.4,2712.4 1259.8,2712.4 1299.2,2713.12 1338.6,2713.12 1378,2713.12 1417.1,2712.4 1456.2,2711.68 1495.3,2711.68 1534.4,2710.97 1573.5,2710.25 1612.76,2709.53 1652.02,2708.81 1691.28,2708.1 1730.54,2707.38 1769.8,2705.95" fill="none" stroke="#ff0000" stroke-width="3" stroke-linejoin="round" stroke-linecap="butt" stroke-opacity="0.74"/>
<polyline points="241.5,3244.48 280.62,3244.48 319.75,3244.48 358.88,3244.48 398,3244.48 437.16,3238.66 476.32,3140.9 515.48,2980.84 554.64,2793.72 593.8,2667.86 632.96,2630.98 672.12,2632.43 711.28,2641.1 750.44,2648.33 789.6,2654.84 828.68,2659.9 867.76,2664.24 906.84,2667.86 945.92,2670.75 985,2672.92 1024.2,2674.36 1063.4,2675.08 1102.6,2675.81 1141.8,2675.81 1181,2675.81 1220.4,2676.53 1259.8,2676.53 1299.2,2676.53 1338.6,2676.53 1378,2676.53 1417.1,2675.81 1456.2,2675.08 1495.3,2674.36 1534.4,2673.64 1573.5,2672.92 1612.76,2672.19 1652.02,2671.47 1691.28,2670.75 1730.54,2670.02 1769.8,2669.3" fill="none" stroke="#ff0000" stroke-width="7" stroke-linejoin="round" stroke-linecap="butt" stroke-opacity="0.08"/>
<polyline points="241.5,3244.48 280.62,3244.48 319.75,3244.48 358.88,3244.48 398,3244.48 437.16,3238.66 476.32,3140.9 515.48,2980.84 554.64,2793.72 593.8,2667.86 632.96,2630.98 672.12,2632.43 711.28,2641.1 750.44,2648.33 789.6,2654.84 828.68,2659.9 867.76,2664.24 906.84,2667.86 945.92,2670.75 985,2672.92 1024.2,2674.36 1063.4,2675.08 1102.6,2675.81 1141.8,2675.81 1181,2675.81 1220.4,2676.53 1259.8,2676.53 1299.2,2676.53 1338.6,2676.53 1378,2676.53 1417.1,2675.81 1456.2,2675.08 1495.3,2674.36 1534.4,2673.64 1573.5,2672.92 1612.76,2672.19 1652.02,2671.47 1691.28,2670.75 1730.54,2670.02 1769.8,2669.3" fill="none" stroke="#ff0000" stroke-width="3" stroke-linejoin="round" stroke-linecap="butt" stroke-opacity="0.74"/>
<line x1="241.5" y1="3246" x2="1801.5" y2="3246" stroke="#ffe4e4" stroke-width="9"/>
<line x1="241.5" y1="3244" x2="1801.5" y2="3244" stroke="#ff3838" stroke-width="6"/>
<line x1="210.55" y1="2550.2" x2="210.55" y2="3270.65" stroke="#8a8a8a" stroke-width="2.8"/>
<line x1="216.15" y1="2554.4" x2="216.15" y2="3266.45" stroke="#9a9a9a" stroke-width="2.8"/>
<line x1="1804.3" y1="2550.2" x2="1804.3" y2="3270.65" stroke="#c4c4c4" stroke-width="2.8"/>
<line x1="1798.7" y1="2554.4" x2="1798.7" y2="3266.45" stroke="#828282" stroke-width="2.8"/>
<line x1="209.15" y1="2551.6" x2="1805.7" y2="2551.6" stroke="#626262" stroke-width="2.8"/>
<line x1="213.35" y1="2557.2" x2="1801.5" y2="2557.2" stroke="#dcdcdc" stroke-width="2.8"/>
<line x1="209.15" y1="3269.25" x2="1805.7" y2="3269.25" stroke="#9a9a9a" stroke-width="2.8"/>
<line x1="213.35" y1="3263.65" x2="1801.5" y2="3263.65" stroke="#a8a8a8" stroke-width="2.8"/>
<rect x="213.35" y="2554.4" width="1588.15" height="712.05" fill="none" stroke="#161616" stroke-width="2.8"/>
<text transform="translate(767.26,86.79) scale(1.0836,1)" font-size="100.82" fill="#000"><tspan font-family="Liberation Sans, sans-serif">Mic</tspan></text>
<text transform="translate(964.99,86.76) scale(1.0303,1)" font-size="104.29" fill="#000"><tspan font-family="Liberation Sans, sans-serif" font-style="italic">vt1</tspan></text>
<text transform="translate(1107.99,86.3) scale(1.1143,1)" font-size="100.00" fill="#000"><tspan font-family="Liberation Sans, sans-serif">-</tspan></text>
<text transform="translate(1143.94,87.94) scale(0.8213,1)" font-size="106.20" fill="#000"><tspan font-family="Liberation Sans, sans-serif">CY5</tspan></text>
<text transform="translate(720.23,1290.19) scale(1.0993,1)" font-size="100.82" fill="#000"><tspan font-family="Liberation Sans, sans-serif">Mic</tspan></text>
<text transform="translate(918.09,1289.69) scale(1.0616,1)" font-size="101.27" fill="#000"><tspan font-family="Liberation Sans, sans-serif" font-style="italic">vt2</tspan></text>
<text transform="translate(1061.9,1290.16) scale(1.1269,1)" font-size="102.50" fill="#000"><tspan font-family="Liberation Sans, sans-serif">-</tspan></text>
<text transform="translate(1099.21,1290.7) scale(0.9744,1)" font-size="102.46" fill="#000"><tspan font-family="Liberation Sans, sans-serif">FAM</tspan></text>
<text transform="translate(660.93,2505.48) scale(1.0876,1)" font-size="101.90" fill="#000"><tspan font-family="Liberation Sans, sans-serif">Mic</tspan></text>
<text transform="translate(860.68,2506.46) scale(0.8553,1)" font-size="104.23" fill="#000"><tspan font-family="Liberation Sans, sans-serif">IC</tspan></text>
<text transform="translate(947.98,2505.24) scale(1.1889,1)" font-size="97.50" fill="#000"><tspan font-family="Liberation Sans, sans-serif">-</tspan></text>
<text transform="translate(982.22,2506.5) scale(0.9543,1)" font-size="103.62" fill="#000"><tspan font-family="Liberation Sans, sans-serif">TAMRA</tspan></text>
<text transform="translate(70.42,809.51) rotate(-90) scale(0.9564,1)" font-size="48.44" fill="#000"><tspan font-family="Liberation Sans, sans-serif" font-weight="bold">Normalised Fluorescence</tspan></text>
<text transform="translate(65.22,2014.65) rotate(-90) scale(0.9726,1)" font-size="48.30" fill="#000"><tspan font-family="Liberation Sans, sans-serif" font-weight="bold">Normalised Fluorescence</tspan></text>
<text transform="translate(78.72,3211.51) rotate(-90) scale(0.9880,1)" font-size="48.44" fill="#000"><tspan font-family="Liberation Sans, sans-serif" font-weight="bold">Normalised Fluorescence</tspan></text>
<text transform="translate(993.97,1027.94) scale(0.8521,1)" font-size="47.91" fill="#000"><tspan font-family="Liberation Sans, sans-serif" font-weight="bold">Cycles</tspan></text>
<text transform="translate(1001.35,2235.66) scale(0.8640,1)" font-size="47.81" fill="#000"><tspan font-family="Liberation Sans, sans-serif" font-weight="bold">Cycles</tspan></text>
<text transform="translate(990.63,3413.83) scale(0.8805,1)" font-size="47.49" fill="#000"><tspan font-family="Liberation Sans, sans-serif" font-weight="bold">Cycles</tspan></text>
<text transform="translate(863.25,1163.19) scale(0.9255,1)" font-size="85.16" fill="#000"><tspan font-family="Liberation Serif, sans-serif">(</tspan></text>
<text transform="translate(891.34,1162.8) scale(0.9848,1)" font-size="87.58" fill="#000"><tspan font-family="Liberation Serif, sans-serif" font-weight="bold">A</tspan></text>
<text transform="translate(955.69,1163.19) scale(0.9032,1)" font-size="85.16" fill="#000"><tspan font-family="Liberation Serif, sans-serif">)</tspan></text>
<text transform="translate(868.37,2363.32) scale(0.9174,1)" font-size="85.49" fill="#000"><tspan font-family="Liberation Serif, sans-serif">(</tspan></text>
<text transform="translate(896.75,2362.56) scale(0.8727,1)" font-size="88.18" fill="#000"><tspan font-family="Liberation Serif, sans-serif" font-weight="bold">B</tspan></text>
<text transform="translate(950.93,2363.32) scale(0.8862,1)" font-size="85.49" fill="#000"><tspan font-family="Liberation Serif, sans-serif">)</tspan></text>
<text transform="translate(865.24,3551.32) scale(0.9266,1)" font-size="85.49" fill="#000"><tspan font-family="Liberation Serif, sans-serif">(</tspan></text>
<text transform="translate(891.22,3552.09) scale(1.0011,1)" font-size="91.49" fill="#000"><tspan font-family="Liberation Serif, sans-serif" font-weight="bold">C</tspan></text>
<text transform="translate(952.56,3551.32) scale(0.9132,1)" font-size="85.49" fill="#000"><tspan font-family="Liberation Serif, sans-serif">)</tspan></text>
<text transform="translate(138.61,196.78) scale(1.1137,1)" font-size="41.83" fill="#2a2a2a"><tspan font-family="Liberation Sans, sans-serif">1.6</tspan></text>
<text transform="translate(138.53,275.2) scale(0.9800,1)" font-size="47.25" fill="#2a2a2a"><tspan font-family="Liberation Sans, sans-serif">1.4</tspan></text>
<text transform="translate(138.47,358.5) scale(1.0289,1)" font-size="45.71" fill="#2a2a2a"><tspan font-family="Liberation Sans, sans-serif">1.2</tspan></text>
<text transform="translate(174.68,440) scale(0.9926,1)" font-size="47.25" fill="#2a2a2a"><tspan font-family="Liberation Sans, sans-serif">1</tspan></text>
<text transform="translate(133.23,524.14) scale(1.0223,1)" font-size="45.77" fill="#2a2a2a"><tspan font-family="Liberation Sans, sans-serif">0.8</tspan></text>
<text transform="translate(134.7,602.84) scale(1.0356,1)" font-size="45.77" fill="#2a2a2a"><tspan font-family="Liberation Sans, sans-serif">0.6</tspan></text>
<text transform="translate(131,683.04) scale(1.0393,1)" font-size="45.77" fill="#2a2a2a"><tspan font-family="Liberation Sans, sans-serif">0.4</tspan></text>
<text transform="translate(131.04,770.84) scale(1.0167,1)" font-size="45.77" fill="#2a2a2a"><tspan font-family="Liberation Sans, sans-serif">0.2</tspan></text>
<text transform="translate(164.18,850.33) scale(1.0749,1)" font-size="46.90" fill="#2a2a2a"><tspan font-family="Liberation Sans, sans-serif">0</tspan></text>
<text transform="translate(163.8,1452.6) scale(1.0107,1)" font-size="47.54" fill="#2a2a2a"><tspan font-family="Liberation Sans, sans-serif">1</tspan></text>
<text transform="translate(123.56,1576.24) scale(1.0444,1)" font-size="46.34" fill="#2a2a2a"><tspan font-family="Liberation Sans, sans-serif">0.8</tspan></text>
<text transform="translate(123.56,1701.74) scale(1.0444,1)" font-size="46.34" fill="#2a2a2a"><tspan font-family="Liberation Sans, sans-serif">0.6</tspan></text>
<text transform="translate(123.56,1827.26) scale(1.0943,1)" font-size="44.23" fill="#2a2a2a"><tspan font-family="Liberation Sans, sans-serif">0.5</tspan></text>
<text transform="translate(123.55,1951.26) scale(1.1063,1)" font-size="44.08" fill="#2a2a2a"><tspan font-family="Liberation Sans, sans-serif">0.2</tspan></text>
<text transform="translate(162.36,2076.84) scale(1.1015,1)" font-size="46.34" fill="#2a2a2a"><tspan font-family="Liberation Sans, sans-serif">0</tspan></text>
<text transform="translate(151.55,2626.54) scale(1.0866,1)" font-size="45.92" fill="#2a2a2a"><tspan font-family="Liberation Sans, sans-serif">9</tspan></text>
<text transform="translate(149.97,2694.86) scale(1.1354,1)" font-size="43.66" fill="#2a2a2a"><tspan font-family="Liberation Sans, sans-serif">8</tspan></text>
<text transform="translate(149.8,2769.9) scale(1.0141,1)" font-size="47.25" fill="#2a2a2a"><tspan font-family="Liberation Sans, sans-serif">7</tspan></text>
<text transform="translate(146.48,2834.64) scale(1.0960,1)" font-size="45.92" fill="#2a2a2a"><tspan font-family="Liberation Sans, sans-serif">6</tspan></text>
<text transform="translate(147.03,2909.23) scale(1.0546,1)" font-size="46.71" fill="#2a2a2a"><tspan font-family="Liberation Sans, sans-serif">5</tspan></text>
<text transform="translate(147.55,2979.6) scale(0.9548,1)" font-size="49.57" fill="#2a2a2a"><tspan font-family="Liberation Sans, sans-serif">4</tspan></text>
<text transform="translate(148.87,3052.12) scale(0.9484,1)" font-size="48.17" fill="#2a2a2a"><tspan font-family="Liberation Sans, sans-serif">3</tspan></text>
<text transform="translate(149.31,3122.5) scale(0.9816,1)" font-size="46.57" fill="#2a2a2a"><tspan font-family="Liberation Sans, sans-serif">2</tspan></text>
<text transform="translate(150.06,3198.6) scale(1.0065,1)" font-size="49.57" fill="#2a2a2a"><tspan font-family="Liberation Sans, sans-serif">1</tspan></text>
<text transform="translate(149.2,3271.12) scale(1.0899,1)" font-size="48.17" fill="#2a2a2a"><tspan font-family="Liberation Sans, sans-serif">0</tspan></text>
<text transform="translate(410.06,965.53) scale(1.0271,1)" font-size="47.14" fill="#2a2a2a"><tspan font-family="Liberation Sans, sans-serif">5</tspan></text>
<text transform="translate(587.33,965.54) scale(1.0542,1)" font-size="46.48" fill="#2a2a2a"><tspan font-family="Liberation Sans, sans-serif">10</tspan></text>
<text transform="translate(768.42,965.53) scale(1.0126,1)" font-size="47.14" fill="#2a2a2a"><tspan font-family="Liberation Sans, sans-serif">15</tspan></text>
<text transform="translate(961.22,965.54) scale(1.0243,1)" font-size="46.48" fill="#2a2a2a"><tspan font-family="Liberation Sans, sans-serif">20</tspan></text>
<text transform="translate(1153.7,965.54) scale(0.9914,1)" font-size="46.48" fill="#2a2a2a"><tspan font-family="Liberation Sans, sans-serif">25</tspan></text>
<text transform="translate(1344.64,965.54) scale(1.0519,1)" font-size="46.48" fill="#2a2a2a"><tspan font-family="Liberation Sans, sans-serif">30</tspan></text>
<text transform="translate(1536.25,965.54) scale(1.0486,1)" font-size="46.48" fill="#2a2a2a"><tspan font-family="Liberation Sans, sans-serif">35</tspan></text>
<text transform="translate(1717.43,965.54) scale(1.0482,1)" font-size="46.48" fill="#2a2a2a"><tspan font-family="Liberation Sans, sans-serif">40</tspan></text>
<text transform="translate(405,2172.53) scale(1.0584,1)" font-size="47.14" fill="#2a2a2a"><tspan font-family="Liberation Sans, sans-serif">5</tspan></text>
<text transform="translate(585.71,2172.54) scale(1.0585,1)" font-size="46.48" fill="#2a2a2a"><tspan font-family="Liberation Sans, sans-serif">10</tspan></text>
<text transform="translate(769.19,2172.53) scale(1.0766,1)" font-size="47.14" fill="#2a2a2a"><tspan font-family="Liberation Sans, sans-serif">15</tspan></text>
<text transform="translate(966.23,2172.54) scale(1.0621,1)" font-size="46.48" fill="#2a2a2a"><tspan font-family="Liberation Sans, sans-serif">20</tspan></text>
<text transform="translate(1162.1,2172.54) scale(1.0315,1)" font-size="46.48" fill="#2a2a2a"><tspan font-family="Liberation Sans, sans-serif">25</tspan></text>
<text transform="translate(1357.71,2172.54) scale(1.0726,1)" font-size="46.48" fill="#2a2a2a"><tspan font-family="Liberation Sans, sans-serif">30</tspan></text>
<text transform="translate(1555.09,2172.54) scale(1.0298,1)" font-size="46.48" fill="#2a2a2a"><tspan font-family="Liberation Sans, sans-serif">35</tspan></text>
<text transform="translate(1739.44,2172.54) scale(1.0319,1)" font-size="46.48" fill="#2a2a2a"><tspan font-family="Liberation Sans, sans-serif">40</tspan></text>
<text transform="translate(385.98,3349.51) scale(1.0402,1)" font-size="48.57" fill="#2a2a2a"><tspan font-family="Liberation Sans, sans-serif">5</tspan></text>
<text transform="translate(568.96,3349.52) scale(1.0692,1)" font-size="47.89" fill="#2a2a2a"><tspan font-family="Liberation Sans, sans-serif">10</tspan></text>
<text transform="translate(755.89,3349.51) scale(0.9911,1)" font-size="48.57" fill="#2a2a2a"><tspan font-family="Liberation Sans, sans-serif">15</tspan></text>
<text transform="translate(953.3,3349.52) scale(1.0431,1)" font-size="47.89" fill="#2a2a2a"><tspan font-family="Liberation Sans, sans-serif">20</tspan></text>
<text transform="translate(1153.78,3349.52) scale(1.0114,1)" font-size="47.89" fill="#2a2a2a"><tspan font-family="Liberation Sans, sans-serif">25</tspan></text>
<text transform="translate(1352.69,3349.52) scale(0.9967,1)" font-size="47.89" fill="#2a2a2a"><tspan font-family="Liberation Sans, sans-serif">30</tspan></text>
<text transform="translate(1551.08,3349.52) scale(1.0036,1)" font-size="47.89" fill="#2a2a2a"><tspan font-family="Liberation Sans, sans-serif">35</tspan></text>
<text transform="translate(1738.04,3349.52) scale(1.0035,1)" font-size="47.89" fill="#2a2a2a"><tspan font-family="Liberation Sans, sans-serif">40</tspan></text>
<g stroke="#f87a86" stroke-width="0.9">
<text transform="translate(1725.85,769.68) scale(0.9110,1)" font-size="31.55" fill="#f25a6e"><tspan font-family="Liberation Sans, sans-serif">0.100</tspan></text>
</g>
<g stroke="#f87a86" stroke-width="0.9">
<text transform="translate(1722.83,1978.96) scale(0.8637,1)" font-size="33.80" fill="#f25a6e"><tspan font-family="Liberation Sans, sans-serif">0.100</tspan></text>
</g>
<g stroke="#f87a86" stroke-width="0.9">
<text transform="translate(1721.51,3218.88) scale(0.9259,1)" font-size="32.11" fill="#f25a6e"><tspan font-family="Liberation Sans, sans-serif">0.100</tspan></text>
</g>
</svg>
</body></html>
